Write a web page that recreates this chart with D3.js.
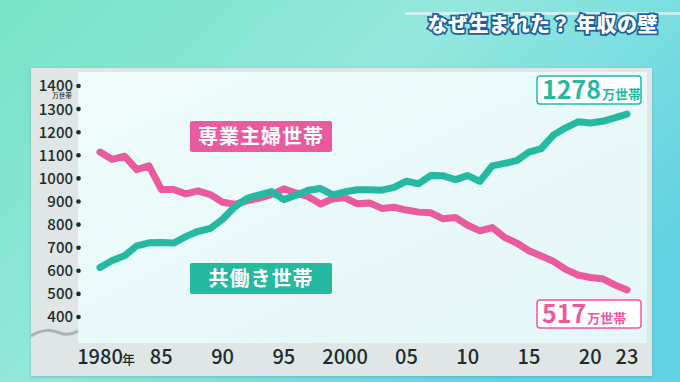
<!DOCTYPE html>
<html>
<head>
<meta charset="utf-8">
<script src="https://cdn.jsdelivr.net/npm/d3@7"></script>
<style>
  html, body { margin: 0; padding: 0; background: #7fe3cc; }
  svg { display: block; font-family: "Noto Sans CJK JP", "Noto Sans", sans-serif; }
</style>
</head>
<body>
<svg id="chart" width="680" height="382"></svg>
<script>
// 年 (1980-2023)
const years = d3.range(1980, 2024);

// 共働き世帯 (万世帯)
const dualIncome = [614, 645, 665, 708, 721, 722, 720, 748, 771, 783,
  823, 877, 914, 929, 943, 908, 927, 949, 956, 929,
  942, 951, 951, 949, 961, 988, 977, 1013, 1011, 995,
  1012, 987, 1054, 1065, 1077, 1114, 1129, 1188, 1219, 1245,
  1240, 1247, 1262, 1278];

// 専業主婦世帯 (万世帯)
const housewife = [1114, 1082, 1096, 1038, 1054, 952, 952, 933, 946, 930,
  897, 888, 903, 915, 930, 955, 937, 921, 889, 912,
  916, 890, 894, 870, 875, 863, 854, 851, 825, 831,
  797, 773, 787, 745, 720, 687, 664, 641, 606, 582,
  571, 566, 539, 517];

const yTicks = [400, 500, 600, 700, 800, 900, 1000, 1100, 1200, 1300, 1400];
const xTicks = [1980, 1985, 1990, 1995, 2000, 2005, 2010, 2015, 2020, 2023];
const xTickLabels = ["1980", "85", "90", "95", "2000", "05", "10", "15", "20", "23"];

const pink = "#ea5a9f";
const teal = "#26b9a2";

const svg = d3.select("#chart");

// background gradient
const defs = svg.append("defs");
const bg = defs.append("linearGradient").attr("id", "bg")
  .attr("x1", "0").attr("y1", "0").attr("x2", "1").attr("y2", "0.6");
bg.append("stop").attr("offset", "0").attr("stop-color", "#79e2c6");
bg.append("stop").attr("offset", "0.5").attr("stop-color", "#93e8dd");
bg.append("stop").attr("offset", "1").attr("stop-color", "#62d2e2");

const plotBg = defs.append("linearGradient").attr("id", "plotBg")
  .attr("x1", "0").attr("y1", "0").attr("x2", "1").attr("y2", "1");
plotBg.append("stop").attr("offset", "0").attr("stop-color", "#effcfb");
plotBg.append("stop").attr("offset", "1").attr("stop-color", "#e4f6f8");

const shadow = defs.append("filter").attr("id", "shadow")
  .attr("x", "-5%").attr("y", "-5%").attr("width", "110%").attr("height", "115%");
shadow.append("feDropShadow").attr("dx", 0).attr("dy", 1).attr("stdDeviation", 1.5)
  .attr("flood-color", "#2a8080").attr("flood-opacity", 0.35);

svg.append("rect").attr("width", 680).attr("height", 382).attr("fill", "url(#bg)");

// light streak behind the title
svg.append("rect")
  .attr("x", 405).attr("y", 12).attr("width", 275).attr("height", 3)
  .attr("fill", "#ffffff").attr("opacity", 0.55);

// title
svg.append("text")
  .attr("x", 658).attr("y", 32)
  .attr("text-anchor", "end")
  .attr("font-size", 20).attr("font-weight", 900)
  .attr("fill", "#ffffff")
  .attr("stroke", "#1d5f9c").attr("stroke-width", 3.5)
  .attr("paint-order", "stroke")
  .attr("letter-spacing", 0.5)
  .text("なぜ生まれた？ 年収の壁");

// gray panel + plot area
svg.append("rect")
  .attr("x", 31).attr("y", 68).attr("width", 621).attr("height", 308)
  .attr("fill", "#dfe6e5").attr("filter", "url(#shadow)");
svg.append("rect")
  .attr("x", 78).attr("y", 72).attr("width", 569).attr("height", 271)
  .attr("fill", "url(#plotBg)");

// scales
const x = d3.scaleLinear().domain([1980, 2023]).range([100, 627]);
const y = d3.scaleLinear().domain([400, 1400]).range([317, 86]);

// y axis: labels with dots
const yAxis = svg.append("g");
yAxis.selectAll("text")
  .data(yTicks)
  .enter()
  .append("text")
  .attr("x", 73)
  .attr("y", d => y(d))
  .attr("dy", "0.36em")
  .attr("text-anchor", "end")
  .attr("font-size", 15).attr("font-weight", 500)
  .attr("fill", "#1d2b2b")
  .text(d => d);
yAxis.selectAll("circle")
  .data(yTicks)
  .enter()
  .append("circle")
  .attr("cx", 78.5)
  .attr("cy", d => y(d))
  .attr("r", 2.3)
  .attr("fill", "#1d2b2b");

// unit under 1400
svg.append("text")
  .attr("x", 62).attr("y", y(1400) + 11.5)
  .attr("text-anchor", "middle")
  .attr("font-size", 6.5).attr("font-weight", 500)
  .attr("fill", "#1d2b2b")
  .text("万世帯");

// axis break wave
svg.append("path")
  .attr("d", "M31,336 C44,328 52,330 60,333 C68,336 73,334 78,331")
  .attr("fill", "none")
  .attr("stroke", "#abb4b4")
  .attr("stroke-width", 3);

// x axis labels
const xAxis = svg.append("g");
xAxis.selectAll("text")
  .data(xTicks)
  .enter()
  .append("text")
  .attr("x", d => x(d))
  .attr("y", 364)
  .attr("text-anchor", "middle")
  .attr("font-size", 20).attr("font-weight", 500)
  .attr("fill", "#1d2b2b")
  .text((d, i) => xTickLabels[i]);
xAxis.append("text")
  .attr("x", x(1980) + 22).attr("y", 364)
  .attr("font-size", 13).attr("font-weight", 500)
  .attr("fill", "#1d2b2b")
  .text("年");

// lines
const line = d3.line()
  .x((d, i) => x(years[i]))
  .y(d => y(d));

svg.append("path")
  .datum(housewife)
  .attr("d", line)
  .attr("fill", "none")
  .attr("stroke", pink)
  .attr("stroke-width", 7)
  .attr("stroke-linejoin", "round")
  .attr("stroke-linecap", "round");

svg.append("path")
  .datum(dualIncome)
  .attr("d", line)
  .attr("fill", "none")
  .attr("stroke", teal)
  .attr("stroke-width", 7)
  .attr("stroke-linejoin", "round")
  .attr("stroke-linecap", "round");

// series labels
function seriesLabel(bx, by, color, txt) {
  svg.append("rect")
    .attr("x", bx).attr("y", by).attr("width", 142).attr("height", 31)
    .attr("rx", 2)
    .attr("fill", color);
  svg.append("text")
    .attr("x", bx + 71).attr("y", by + 16)
    .attr("dy", "0.36em")
    .attr("text-anchor", "middle")
    .attr("font-size", 20).attr("font-weight", 700)
    .attr("fill", "#ffffff")
    .attr("letter-spacing", 1)
    .text(txt);
}
seriesLabel(190, 121, pink, "専業主婦世帯");
seriesLabel(190, 263, teal, "共働き世帯");

// end value labels
function endLabel(bx, by, color, value) {
  svg.append("rect")
    .attr("x", bx).attr("y", by).attr("width", 104).attr("height", 28)
    .attr("rx", 3)
    .attr("fill", "#ffffff")
    .attr("stroke", color).attr("stroke-width", 1.5);
  const t = svg.append("text")
    .attr("x", bx + 5).attr("y", by + 23)
    .attr("fill", color)
    .attr("font-weight", 700);
  t.append("tspan").attr("font-size", 25).text(value);
  t.append("tspan").attr("font-size", 13).attr("dx", 1).text("万世帯");
}
endLabel(537, 76, teal, dualIncome[dualIncome.length - 1]);
endLabel(537, 300, pink, housewife[housewife.length - 1]);
</script>
</body>
</html>
